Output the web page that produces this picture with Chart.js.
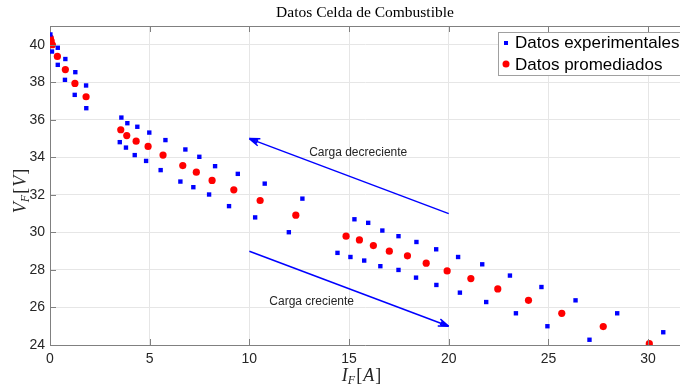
<!DOCTYPE html>
<html>
<head>
<meta charset="utf-8">
<script src="https://cdn.jsdelivr.net/npm/chart.js@4.4.0/dist/chart.umd.min.js"></script>
<style>
  body { margin: 0; background: #fff; }
  #wrap { width: 680px; height: 390px; position: relative; }
</style>
</head>
<body>
<div id="wrap"><canvas id="fuelCell"></canvas></div>
<script>
// datos
const expI = [0.02, 0.1, 0.39, 0.39, 0.77, 0.75, 1.27, 1.24, 1.81, 1.82,
  3.58, 3.5, 3.88, 3.81, 4.38, 4.25, 4.98, 4.82, 5.79, 5.55,
  6.79, 6.54, 7.49, 7.19, 8.28, 7.98, 9.42, 8.98, 10.77, 10.29,
  12.66, 11.98, 15.27, 14.42, 15.96, 15.07, 16.67, 15.76, 17.48, 16.57,
  18.38, 17.48, 19.37, 18.36, 20.47, 19.38, 21.68, 20.56, 23.07, 21.88,
  24.65, 23.37, 26.36, 24.95, 28.45, 27.06, 30.76];
const expV = [40.55, 39.64, 39.84, 38.93, 39.24, 38.13, 38.54, 37.33, 37.83, 36.62,
  36.12, 34.81, 35.82, 34.52, 35.63, 34.12, 35.32, 33.81, 34.92, 33.32,
  34.42, 32.71, 34.03, 32.41, 33.53, 32.02, 33.12, 31.4, 32.6, 30.8,
  31.8, 30.01, 30.7, 28.91, 30.51, 28.69, 30.1, 28.5, 29.8, 28.2,
  29.49, 28.0, 29.1, 27.59, 28.69, 27.2, 28.3, 26.79, 27.7, 26.29,
  27.09, 25.69, 26.38, 25.0, 25.69, 24.28, 24.68];

const avgI = [0.02, 0.06, 0.12, 0.37, 0.77, 1.25, 1.81, 3.55, 3.85, 4.32,
  4.92, 5.67, 6.66, 7.34, 8.13, 9.22, 10.54, 12.33, 14.85, 15.52,
  16.22, 17.02, 17.93, 18.87, 19.92, 21.11, 22.46, 24.0, 25.67, 27.75, 30.06];
const avgV = [40.35, 40.2, 40.0, 39.38, 38.68, 37.94, 37.23, 35.47, 35.16, 34.86,
  34.58, 34.12, 33.56, 33.21, 32.77, 32.27, 31.7, 30.92, 29.8, 29.6,
  29.3, 29.0, 28.75, 28.36, 27.95, 27.54, 26.99, 26.38, 25.69, 24.98, 24.07];

const xTicks = [0, 5, 10, 15, 20, 25, 30];
const yTicks = [24, 26, 28, 30, 32, 34, 36, 38, 40];

// flechas: [x0, y0, x1, y1] en unidades de datos, punta en (x1, y1)
const arrows = [[20, 31, 10, 35], [10, 29, 20, 25]];
const arrowLabels = ["Carga decreciente", "Carga creciente"];
const labelPos = [[13.0, 34.25], [11.0, 26.3]];

const legendItems = ["Datos experimentales", "Datos promediados"];

const toPoints = (xs, ys) => xs.map((x, i) => ({ x: x, y: ys[i] }));

const decoPlugin = {
  id: "deco",
  afterDatasetsDraw(chart) {
    const ctx = chart.ctx;
    const xs = chart.scales.x, ys = chart.scales.y;
    const area = chart.chartArea;
    ctx.save();

    // caja y marcas hacia dentro
    ctx.strokeStyle = "#808080";
    ctx.lineWidth = 1;
    ctx.beginPath();
    ctx.moveTo(area.left, area.top + 0.5);
    ctx.lineTo(area.right, area.top + 0.5);
    xTicks.forEach(t => {
      const px = Math.round(xs.getPixelForValue(t)) + 0.5;
      ctx.moveTo(px, area.bottom); ctx.lineTo(px, area.bottom - 6);
      ctx.moveTo(px, area.top); ctx.lineTo(px, area.top + 6);
    });
    yTicks.forEach(t => {
      const py = Math.round(ys.getPixelForValue(t)) + 0.5;
      ctx.moveTo(area.left, py); ctx.lineTo(area.left + 6, py);
    });
    ctx.stroke();

    // flechas
    ctx.strokeStyle = "#0000ff";
    ctx.fillStyle = "#0000ff";
    ctx.lineWidth = 1.5;
    arrows.forEach(a => {
      const x0 = xs.getPixelForValue(a[0]), y0 = ys.getPixelForValue(a[1]);
      const x1 = xs.getPixelForValue(a[2]), y1 = ys.getPixelForValue(a[3]);
      const ang = Math.atan2(y1 - y0, x1 - x0);
      ctx.beginPath();
      ctx.moveTo(x0, y0);
      ctx.lineTo(x1, y1);
      ctx.stroke();
      ctx.beginPath();
      ctx.moveTo(x1, y1);
      ctx.lineTo(x1 - 11 * Math.cos(ang - 0.35), y1 - 11 * Math.sin(ang - 0.35));
      ctx.moveTo(x1, y1);
      ctx.lineTo(x1 - 11 * Math.cos(ang + 0.35), y1 - 11 * Math.sin(ang + 0.35));
      ctx.moveTo(x1, y1);
      ctx.lineTo(x1 - 9 * Math.cos(ang - 0.15), y1 - 9 * Math.sin(ang - 0.15));
      ctx.moveTo(x1, y1);
      ctx.lineTo(x1 - 9 * Math.cos(ang + 0.15), y1 - 9 * Math.sin(ang + 0.15));
      ctx.stroke();
    });

    ctx.fillStyle = "#262626";
    ctx.font = "12px 'Liberation Sans', Arial, sans-serif";
    ctx.textAlign = "left";
    ctx.textBaseline = "middle";
    arrowLabels.forEach((txt, i) => {
      ctx.fillText(txt, xs.getPixelForValue(labelPos[i][0]), ys.getPixelForValue(labelPos[i][1]));
    });

    // leyenda
    ctx.fillStyle = "#fff";
    ctx.fillRect(498.5, 32.5, 200, 43);
    ctx.strokeStyle = "#a0a0a0";
    ctx.lineWidth = 1;
    ctx.strokeRect(498.5, 32.5, 200, 43);
    ctx.fillStyle = "#0000ff";
    ctx.fillRect(504, 41, 4, 4);
    ctx.fillStyle = "#ff0000";
    ctx.beginPath();
    ctx.arc(506, 64, 3.5, 0, Math.PI * 2);
    ctx.fill();
    ctx.fillStyle = "#000";
    ctx.font = "17px 'Liberation Sans', Arial, sans-serif";
    ctx.fillText(legendItems[0], 515, 43.5);
    ctx.fillText(legendItems[1], 515, 65);

    // titulo
    ctx.textAlign = "center";
    ctx.textBaseline = "alphabetic";
    ctx.font = "15.5px 'Liberation Serif', 'DejaVu Serif', serif";
    ctx.fillText("Datos Celda de Combustible", (area.left + area.right) / 2, 17);

    // etiquetas de ejes
    ctx.fillStyle = "#262626";
    const drawSub = (base, sub, rest, cx, cy) => {
      const big = "italic 18px 'Liberation Serif', serif";
      const small = "italic 12px 'Liberation Serif', serif";
      const rFont = "18px 'Liberation Serif', serif";
      ctx.font = big; const w1 = ctx.measureText(base).width;
      ctx.font = small; const w2 = ctx.measureText(sub).width + 1;
      ctx.font = rFont; const wB = ctx.measureText("[").width + 1;
      ctx.font = big; const wM = ctx.measureText(rest).width + 1;
      const total = w1 + w2 + wB * 2 + wM;
      let x = cx - total / 2;
      ctx.textAlign = "left";
      ctx.font = big; ctx.fillText(base, x, cy); x += w1;
      ctx.font = small; ctx.fillText(sub, x, cy + 3); x += w2;
      ctx.font = rFont; ctx.fillText("[", x, cy); x += wB;
      ctx.font = big; ctx.fillText(rest, x, cy); x += wM;
      ctx.font = rFont; ctx.fillText("]", x, cy);
    };
    drawSub("I", "F", "A", (area.left + area.right) / 2 - 3, 381);
    ctx.save();
    ctx.translate(26, (area.top + area.bottom) / 2 + 5);
    ctx.rotate(-Math.PI / 2);
    drawSub("V", "F", "V", 0, 0);
    ctx.restore();

    ctx.restore();
  }
};

const tickFont = { family: "'Liberation Sans', Arial, sans-serif", size: 14 };

new Chart(document.getElementById("fuelCell"), {
  type: "scatter",
  data: {
    datasets: [
      {
        label: legendItems[0],
        data: toPoints(expI, expV),
        pointStyle: "rect",
        pointRadius: 3.1,
        backgroundColor: "#0000ff",
        borderWidth: 0,
      },
      {
        label: legendItems[1],
        data: toPoints(avgI, avgV),
        pointStyle: "circle",
        pointRadius: 3.6,
        backgroundColor: "#ff0000",
        borderWidth: 0,
      },
    ],
  },
  options: {
    responsive: true,
    maintainAspectRatio: false,
    animation: false,
    layout: { autoPadding: false, padding: { top: 26, left: 0, right: 0, bottom: 0 } },
    plugins: {
      legend: { display: false },
      tooltip: { enabled: false },
    },
    scales: {
      x: {
        type: "linear",
        min: 0,
        max: 31.6,
        afterBuildTicks: s => { s.ticks = xTicks.map(v => ({ value: v })); },
        afterFit: s => { s.height = 45; },
        ticks: { font: tickFont, color: "#262626", padding: 6, maxRotation: 0 },
        grid: { color: "#e6e6e6", drawTicks: false },
        border: { display: true, color: "#808080" },
      },
      y: {
        type: "linear",
        min: 24,
        max: 41,
        afterBuildTicks: s => { s.ticks = yTicks.map(v => ({ value: v })); },
        afterFit: s => { s.width = 50; },
        ticks: { font: tickFont, color: "#262626", padding: 5 },
        grid: { color: "#e6e6e6", drawTicks: false },
        border: { display: true, color: "#808080" },
      },
    },
  },
  plugins: [decoPlugin],
});
</script>
</body>
</html>
